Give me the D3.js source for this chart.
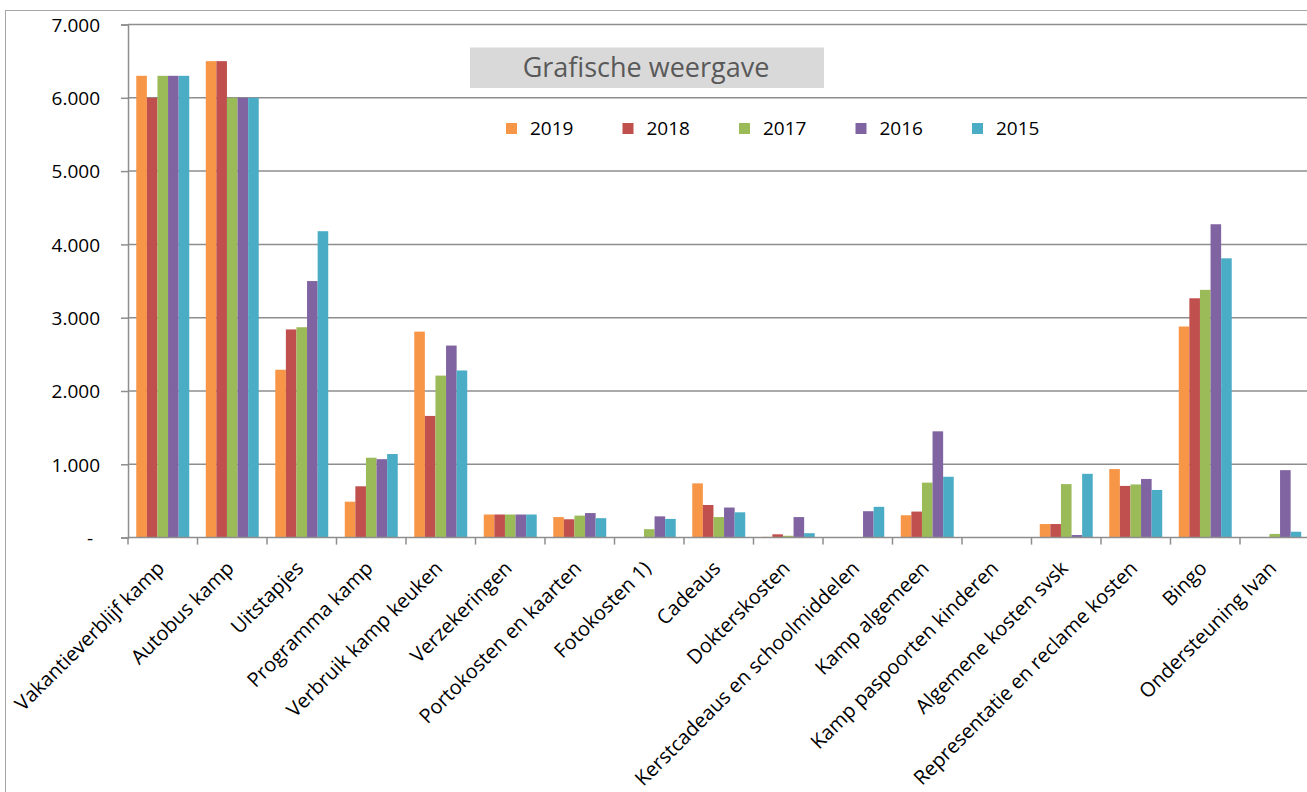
<!DOCTYPE html>
<html><head><meta charset="utf-8">
<script src="https://cdn.jsdelivr.net/npm/d3@7"></script>
<style>
html,body{margin:0;padding:0;background:#fff;}
svg{display:block;font-family:"Open Sans",sans-serif;}
</style></head>
<body>
<svg id="c" width="1307" height="792"></svg>
<script>
const categories = ["Vakantieverblijf kamp","Autobus kamp","Uitstapjes","Programma kamp","Verbruik kamp keuken","Verzekeringen","Portokosten en kaarten","Fotokosten 1)","Cadeaus","Dokterskosten","Kerstcadeaus en schoolmiddelen","Kamp algemeen","Kamp paspoorten kinderen","Algemene kosten svsk","Representatie en reclame kosten","Bingo","Ondersteuning Ivan"];
const seriesNames = ["2019","2018","2017","2016","2015"];
const v2019 = [6300,6500,2290,490,2810,315,280,0,740,10,0,305,0,185,935,2880,0];
const v2018 = [6000,6500,2840,700,1660,315,250,0,445,45,0,355,0,185,705,3265,0];
const v2017 = [6300,6000,2870,1090,2210,315,300,115,280,25,0,750,0,730,725,3380,50];
const v2016 = [6300,6000,3500,1070,2620,315,335,290,410,280,360,1450,0,35,800,4275,920];
const v2015 = [6300,6000,4180,1140,2280,315,265,255,345,60,420,830,0,870,650,3810,80];
const yTicks = [0,1000,2000,3000,4000,5000,6000,7000];
const colors = ["#F79646","#C0504D","#9BBB59","#8064A2","#4BACC6"];
const titleText = "Grafische weergave";

const values = [v2019,v2018,v2017,v2016,v2015];
const svg = d3.select("#c");
const L = 128, R = 1309.5, T = 24.5, B = 537.6;

// outer chart border (left/top visible)
svg.append("rect").attr("x",5.5).attr("y",10.5).attr("width",1330).attr("height",800)
  .attr("fill","#fff").attr("stroke","#a6a6a6").attr("stroke-width",1);

const y = d3.scaleLinear().domain([0,7000]).range([B,T]);
const x0 = d3.scaleBand().domain(categories).range([L,R]).padding(0);
const x1 = d3.scaleBand().domain(seriesNames).range([0,x0.bandwidth()]).paddingInner(0).paddingOuter(0.78);

const loc = d3.formatLocale({decimal:",",thousands:".",grouping:[3],currency:["€",""]});
const fmt = loc.format(",");

// gridlines
svg.append("g").selectAll("line").data(yTicks.filter(d=>d>0)).join("line")
  .attr("x1",L).attr("x2",R).attr("y1",d=>y(d)).attr("y2",d=>y(d))
  .attr("stroke","#8e8e8e").attr("stroke-width",1.5);

// bars
const g = svg.append("g");
seriesNames.forEach((s,si)=>{
  g.append("g").selectAll("rect").data(categories).join("rect")
    .attr("x",(c)=>x0(c)+x1(s))
    .attr("width",x1.bandwidth())
    .attr("y",(c,i)=>y(values[si][i]))
    .attr("height",(c,i)=>B-y(values[si][i]))
    .attr("fill",colors[si]);
});

// y axis
const yAxis = d3.axisLeft(y).tickValues(yTicks).tickSize(7).tickPadding(21)
  .tickFormat(d=> d===0 ? "-" : fmt(d));
const ya = svg.append("g").attr("transform",`translate(${L},0)`).call(yAxis);
ya.select(".domain").attr("stroke","#8e8e8e").attr("stroke-width",1.5);
ya.selectAll(".tick line").attr("stroke","#8e8e8e").attr("stroke-width",1.5);
ya.selectAll(".tick text").attr("font-size",19).attr("fill","#000")
  .attr("font-family","'Open Sans',sans-serif").attr("dy","0.36em")
  .attr("dx",d=>d===0?"-7":"0");

// x axis line + boundary ticks
const bounds = categories.map(c=>x0(c)).concat([x0(categories[categories.length-1])+x0.bandwidth()]);
svg.append("line").attr("x1",L).attr("x2",R).attr("y1",B).attr("y2",B)
  .attr("stroke","#8e8e8e").attr("stroke-width",1.5);
svg.append("g").selectAll("line").data(bounds).join("line")
  .attr("x1",d=>d).attr("x2",d=>d).attr("y1",B).attr("y2",B+7)
  .attr("stroke","#8e8e8e").attr("stroke-width",1.5);

// x labels
const xAxis = d3.axisBottom(x0).tickSize(0);
const xa = svg.append("g").attr("transform",`translate(0,${B})`).call(xAxis);
xa.select(".domain").remove();
xa.selectAll(".tick text")
  .attr("font-size",20).attr("font-family","'Open Sans',sans-serif").attr("fill","#000")
  .attr("text-anchor","end").attr("y",0).attr("dy",0)
  .attr("transform","translate(3,32) rotate(-45)");

// title box
svg.append("rect").attr("x",470).attr("y",47.5).attr("width",354).attr("height",40.5).attr("fill","#d9d9d9");
svg.append("text").attr("x",646).attr("y",77).attr("text-anchor","middle")
  .attr("font-size",27).attr("fill","#595959").text(titleText);

// legend
const lg = svg.append("g").selectAll("g").data(seriesNames).join("g")
  .attr("transform",(d,i)=>`translate(${506+i*116.5},123)`);
lg.append("rect").attr("width",11).attr("height",11).attr("fill",(d,i)=>colors[i]);
lg.append("text").attr("x",24).attr("y",12).attr("font-size",19).attr("fill","#000").text(d=>d);
</script>
</body></html>
